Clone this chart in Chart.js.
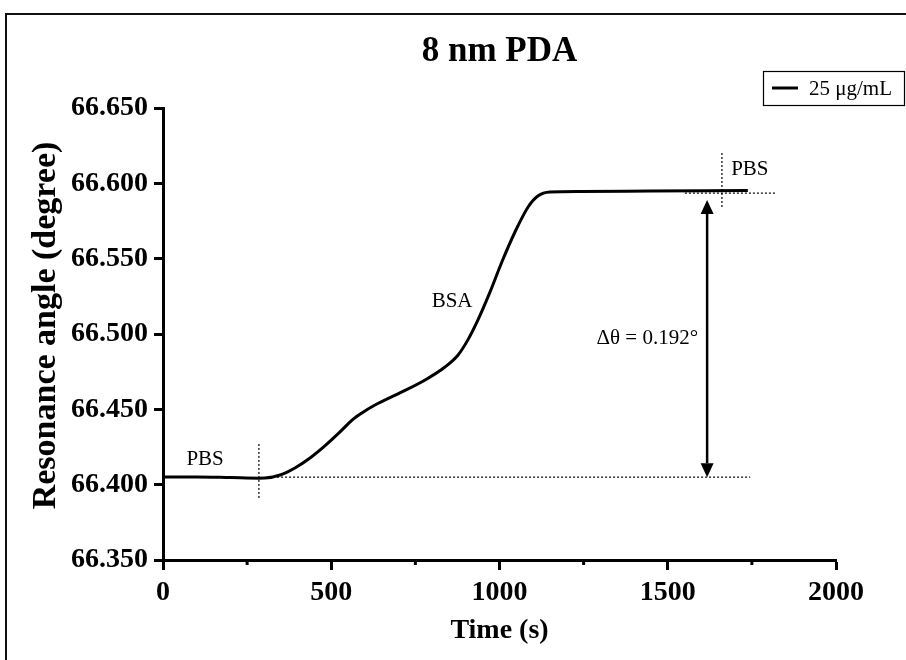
<!DOCTYPE html>
<html>
<head>
<meta charset="utf-8">
<script src="https://cdn.jsdelivr.net/npm/chart.js@4.4.1/dist/chart.umd.min.js"></script>
<style>
  body { margin: 0; background: #fff; }
  canvas { display: block; }
</style>
</head>
<body>
<canvas id="grafica" width="906" height="660"></canvas>
<script>
// curva 25 ug/mL
const tiempo = [0, 100, 200, 285, 303, 348, 392, 437, 481, 526, 562, 591, 630, 704, 779, 838, 877, 906, 936, 972, 1007, 1046, 1085, 1114, 1150, 1239, 1447, 1738];
const angulo = [66.4051, 66.4051, 66.4047, 66.4043, 66.4044, 66.4064, 66.4111, 66.4177, 66.4257, 66.4350, 66.4429, 66.4476, 66.4529, 66.4609, 66.4695, 66.4781, 66.4861, 66.4961, 66.5094, 66.5280, 66.5478, 66.5677, 66.5843, 66.5916, 66.5943, 66.5946, 66.5949, 66.5953];

const xTicks = [0, 500, 1000, 1500, 2000];
const xMenores = [250, 750, 1250, 1750];
const yTicks = [66.35, 66.40, 66.45, 66.50, 66.55, 66.60, 66.65];

// lineas punteadas de referencia
const baseX = [339, 1745];
const baseY = 66.405;
const corte1X = 285;
const corte1Y = [66.3912, 66.427];
const topeX = [1551, 1819];
const topeY = 66.5935;
const corte2X = 1661;
const corte2Y = [66.5843, 66.6208];

// flecha delta theta
const flechaX = 1617;
const flechaY = [66.405, 66.589];

const anotaciones = [
  { texto: 'PBS', x: 125, y: 66.4164 },
  { texto: 'BSA', x: 859, y: 66.5213 },
  { texto: 'PBS', x: 1744, y: 66.6095 },
  { texto: 'Δθ = 0.192°', x: 1590, y: 66.4973, align: 'right' }
];

const fuente = "'Liberation Serif', 'Times New Roman', serif";

function punteada(datos) {
  return {
    data: datos,
    borderColor: '#000',
    borderWidth: 1.2,
    borderDash: [2, 2],
    pointRadius: 0,
    fill: false
  };
}

const extras = {
  id: 'extras',
  beforeDraw(chart) {
    const ctx = chart.ctx;
    ctx.save();
    ctx.fillStyle = '#fff';
    ctx.fillRect(0, 0, chart.width, chart.height);
    // marco
    ctx.strokeStyle = '#111';
    ctx.lineWidth = 2;
    ctx.beginPath();
    ctx.moveTo(6, chart.height);
    ctx.lineTo(6, 14);
    ctx.lineTo(chart.width, 14);
    ctx.stroke();
    ctx.restore();
  },
  afterDraw(chart) {
    const ctx = chart.ctx;
    const x = chart.scales.x, y = chart.scales.y;
    const abajo = chart.chartArea.bottom;
    ctx.save();
    ctx.strokeStyle = '#000';
    ctx.fillStyle = '#000';

    // ticks menores del eje x
    ctx.lineWidth = 3;
    xMenores.forEach(v => {
      const px = x.getPixelForValue(v);
      ctx.beginPath();
      ctx.moveTo(px, abajo);
      ctx.lineTo(px, abajo + 5);
      ctx.stroke();
    });

    // flecha
    const fx = x.getPixelForValue(flechaX);
    const y1 = y.getPixelForValue(flechaY[0]);
    const y2 = y.getPixelForValue(flechaY[1]);
    const cab = 14, ancho = 6.5;
    ctx.lineWidth = 2.5;
    ctx.beginPath();
    ctx.moveTo(fx, y2 + cab);
    ctx.lineTo(fx, y1 - cab);
    ctx.stroke();
    ctx.beginPath();
    ctx.moveTo(fx, y2);
    ctx.lineTo(fx - ancho, y2 + cab);
    ctx.lineTo(fx + ancho, y2 + cab);
    ctx.closePath();
    ctx.fill();
    ctx.beginPath();
    ctx.moveTo(fx, y1);
    ctx.lineTo(fx - ancho, y1 - cab);
    ctx.lineTo(fx + ancho, y1 - cab);
    ctx.closePath();
    ctx.fill();

    // textos
    ctx.font = '21px ' + fuente;
    ctx.textBaseline = 'middle';
    anotaciones.forEach(a => {
      ctx.textAlign = a.align || 'center';
      ctx.fillText(a.texto, x.getPixelForValue(a.x), y.getPixelForValue(a.y));
    });

    // leyenda
    ctx.lineWidth = 1.2;
    ctx.strokeRect(763.5, 71.5, 141, 34);
    ctx.lineWidth = 3;
    ctx.beginPath();
    ctx.moveTo(772, 88);
    ctx.lineTo(798, 88);
    ctx.stroke();
    ctx.textAlign = 'left';
    ctx.fillText(chart.data.datasets[0].label, 809, 89);
    ctx.restore();
  }
};

const ctx = document.getElementById('grafica').getContext('2d');
new Chart(ctx, {
  type: 'line',
  data: {
    datasets: [
      {
        label: '25 μg/mL',
        data: tiempo.map((t, i) => ({ x: t, y: angulo[i] })),
        borderColor: '#000',
        borderWidth: 3,
        pointRadius: 0,
        cubicInterpolationMode: 'monotone',
        fill: false
      },
      punteada([{ x: baseX[0], y: baseY }, { x: baseX[1], y: baseY }]),
      punteada([{ x: corte1X, y: corte1Y[0] }, { x: corte1X, y: corte1Y[1] }]),
      punteada([{ x: topeX[0], y: topeY }, { x: topeX[1], y: topeY }]),
      punteada([{ x: corte2X, y: corte2Y[0] }, { x: corte2X, y: corte2Y[1] }])
    ]
  },
  options: {
    responsive: false,
    animation: false,
    layout: { padding: { left: 0, right: 70, top: 0, bottom: 0 } },
    plugins: {
      legend: { display: false },
      tooltip: { enabled: false },
      title: {
        display: true,
        text: '8 nm PDA',
        fullSize: false,
        color: '#000',
        font: { family: fuente, size: 35, weight: 'bold' },
        padding: { top: 31, bottom: 35 }
      }
    },
    scales: {
      x: {
        type: 'linear',
        min: 0,
        max: 2000,
        afterFit: s => { s.height = 100; },
        afterBuildTicks: s => { s.ticks = xTicks.map(v => ({ value: v })); },
        border: { color: '#000', width: 3 },
        grid: { drawOnChartArea: false, drawTicks: true, tickLength: 10, tickWidth: 3, tickColor: '#000' },
        ticks: {
          color: '#000',
          padding: 6,
          maxRotation: 0,
          callback: v => String(v),
          font: { family: fuente, size: 28, weight: 'bold' }
        },
        title: {
          display: true,
          text: 'Time (s)',
          color: '#000',
          font: { family: fuente, size: 28, weight: 'bold' },
          padding: { top: 0, bottom: 12 }
        }
      },
      y: {
        min: 66.35,
        max: 66.65,
        afterFit: s => { s.width = 163; },
        afterBuildTicks: s => { s.ticks = yTicks.map(v => ({ value: v })); },
        border: { color: '#000', width: 3 },
        grid: { drawOnChartArea: false, drawTicks: true, tickLength: 9, tickWidth: 3, tickColor: '#000' },
        ticks: {
          color: '#000',
          padding: 6,
          callback: v => v.toFixed(3),
          font: { family: fuente, size: 28, weight: 'bold' }
        },
        title: {
          display: true,
          text: '  Resonance angle (degree)',
          color: '#000',
          font: { family: fuente, size: 34, weight: 'bold' },
          padding: { top: 26, bottom: 0 }
        }
      }
    }
  },
  plugins: [extras]
});
</script>
</body>
</html>
